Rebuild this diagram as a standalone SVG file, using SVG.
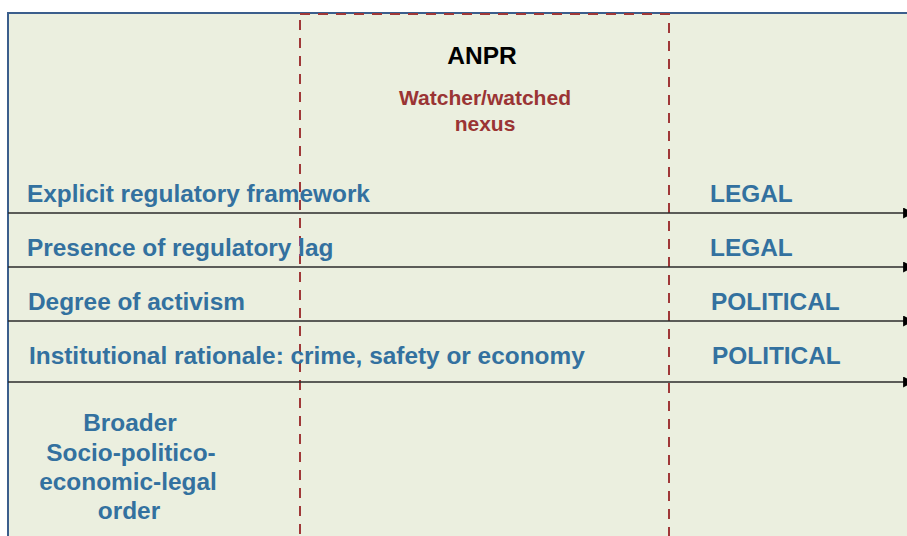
<svg xmlns="http://www.w3.org/2000/svg" width="907" height="536" viewBox="0 0 907 536">
<style>
.b{font-family:"Liberation Sans",Arial,sans-serif;font-weight:bold;fill:#33719F;font-size:24.4px}
.r{font-family:"Liberation Sans",Arial,sans-serif;font-weight:bold;fill:#9A3434;font-size:21px;text-anchor:middle}
.ln{stroke:#2b2b2b;stroke-width:1.6;fill:none;marker-end:url(#ah)}
</style>
<defs>
<marker id="ah" viewBox="0 0 10 10" refX="9" refY="5" markerWidth="12" markerHeight="11" orient="auto" markerUnits="userSpaceOnUse">
<path d="M0,0 L10,5 L0,10 z" fill="#000"/>
</marker>
</defs>
<rect x="0" y="0" width="907" height="536" fill="#fff"/>
<g id="frame">
<rect x="8" y="13" width="905" height="530" fill="#EBEFDF"/>
<path d="M8,537 L8,13 L907,13" fill="none" stroke="#3B5E8C" stroke-width="2"/>
</g>
<g id="nexus">
<rect x="300" y="14" width="369" height="530" fill="none" stroke="#A03838" stroke-width="2" stroke-dasharray="10,8"/>
<text x="482" y="64" font-family="Liberation Sans,Arial,sans-serif" font-weight="bold" font-size="24.5" text-anchor="middle" fill="#000">ANPR</text>
<text class="r" x="485" y="105">Watcher/watched</text>
<text class="r" x="485" y="131">nexus</text>
</g>
<g id="connectors">
<line class="ln" x1="8" y1="213" x2="913" y2="213"/>
<line class="ln" x1="8" y1="267" x2="913" y2="267"/>
<line class="ln" x1="8" y1="321" x2="913" y2="321"/>
<line class="ln" x1="8" y1="382" x2="913" y2="382"/>
</g>
<g id="row1"><text class="b" x="27" y="202">Explicit regulatory framework</text><text class="b" x="710" y="202">LEGAL</text></g>
<g id="row2"><text class="b" x="27" y="256">Presence of regulatory lag</text><text class="b" x="710" y="256">LEGAL</text></g>
<g id="row3"><text class="b" x="28" y="310">Degree of activism</text><text class="b" x="711" y="310">POLITICAL</text></g>
<g id="row4"><text class="b" x="29" y="364">Institutional rationale: crime, safety or economy</text><text class="b" x="712" y="364">POLITICAL</text></g>
<g id="order">
<text class="b" x="130" y="431" text-anchor="middle">Broader</text>
<text class="b" x="131" y="461" text-anchor="middle">Socio-politico-</text>
<text class="b" x="128" y="490" text-anchor="middle">economic-legal</text>
<text class="b" x="129" y="519" text-anchor="middle">order</text>
</g>
</svg>
